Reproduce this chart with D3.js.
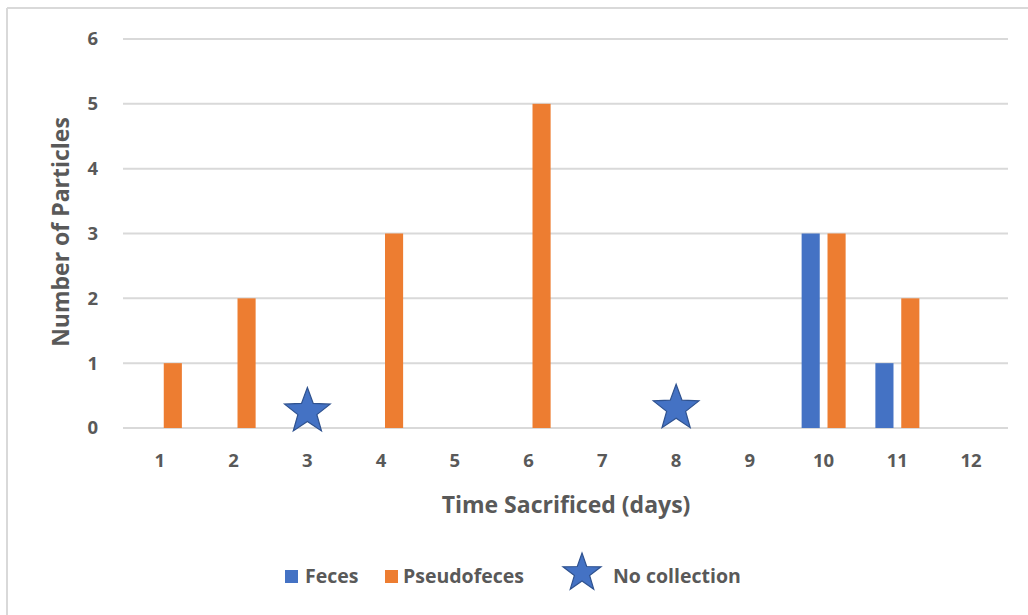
<!DOCTYPE html>
<html>
<head>
<meta charset="utf-8">
<script src="https://cdn.jsdelivr.net/npm/d3@7"></script>
<style>
  html, body { margin: 0; padding: 0; background: #fff; }
  svg { display: block; font-family: "Open Sans", sans-serif; }
</style>
</head>
<body>
<svg id="chart" width="1028" height="615"></svg>
<script>
// Particles found per sacrifice day
const days = ["1","2","3","4","5","6","7","8","9","10","11","12"];
const series = ["Feces", "Pseudofeces"];
const feces = [0, 0, 0, 0, 0, 0, 0, 0, 0, 3, 1, 0];
const pseudofeces = [1, 2, 0, 3, 0, 5, 0, 0, 0, 3, 2, 0];
const noCollectionDays = ["3", "8"];
const noCollectionLevel = [0.3, 0.35];
const yTicks = [0, 1, 2, 3, 4, 5, 6];
const colors = { Feces: "#4472C4", Pseudofeces: "#ED7D31" };

const svg = d3.select("#chart");
const W = 1028, H = 615;
const plot = { left: 123, right: 1008, top: 39, bottom: 428 };
const textColor = "#595959";
const gridColor = "#d9d9d9";
const font = "'Open Sans', sans-serif";

// Outer frame (top and left edges)
svg.append("line").attr("x1", 7).attr("x2", W).attr("y1", 8).attr("y2", 8)
  .attr("stroke", "#d9d9d9").attr("stroke-width", 2);
svg.append("line").attr("x1", 7).attr("x2", 7).attr("y1", 8).attr("y2", H)
  .attr("stroke", "#d9d9d9").attr("stroke-width", 2);

const x0 = d3.scaleBand().domain(days).range([plot.left, plot.right]).paddingInner(0).paddingOuter(0);
const x1 = d3.scaleBand().domain(series).range([x0.bandwidth() / 2 - 22, x0.bandwidth() / 2 + 22]).paddingInner(0.3).paddingOuter(0);
const y = d3.scaleLinear().domain([0, 6]).range([plot.bottom, plot.top]);

// Gridlines
svg.append("g").selectAll("line").data(yTicks).join("line")
  .attr("x1", plot.left).attr("x2", plot.right)
  .attr("y1", d => y(d)).attr("y2", d => y(d))
  .attr("stroke", gridColor).attr("stroke-width", 2);

// Y axis labels
const yAxis = d3.axisLeft(y).tickValues(yTicks).tickFormat(d3.format("d")).tickSize(0).tickPadding(0);
const gy = svg.append("g").attr("transform", `translate(${plot.left - 25},0)`).call(yAxis);
gy.select(".domain").remove();
gy.selectAll("text").attr("fill", textColor).attr("font-size", 18.5).attr("font-weight", 700)
  .attr("font-family", font);

// X axis labels
const xAxis = d3.axisBottom(x0).tickSize(0).tickPadding(0);
const gx = svg.append("g").attr("transform", `translate(0,${plot.bottom + 26})`).call(xAxis);
gx.select(".domain").remove();
gx.selectAll("text").attr("fill", textColor).attr("font-size", 18.5).attr("font-weight", 700)
  .attr("font-family", font);

// Bars
const rows = days.map((d, i) => ({ day: d, Feces: feces[i], Pseudofeces: pseudofeces[i] }));
svg.append("g").selectAll("g").data(rows).join("g")
  .attr("transform", d => `translate(${x0(d.day)},0)`)
  .selectAll("rect")
  .data(d => series.map(s => ({ key: s, value: d[s] })).filter(v => v.value > 0))
  .join("rect")
  .attr("x", d => x1(d.key))
  .attr("width", x1.bandwidth())
  .attr("y", d => y(d.value))
  .attr("height", d => y(0) - y(d.value))
  .attr("fill", d => colors[d.key]);

// Five-point star path centred at the origin
function starPath(R, r) {
  const pts = [];
  for (let i = 0; i < 10; i++) {
    const a = -Math.PI / 2 + i * Math.PI / 5;
    const rad = i % 2 === 0 ? R : r;
    pts.push([rad * Math.cos(a), rad * Math.sin(a)]);
  }
  return d3.line()(pts) + "Z";
}

// "No collection" markers
svg.append("g").selectAll("path").data(noCollectionDays).join("path")
  .attr("d", starPath(24, 10))
  .attr("transform", (d, i) => `translate(${x0(d) + x0.bandwidth() / 2},${y(noCollectionLevel[i]) + 3})`)
  .attr("fill", "#4472C4").attr("stroke", "#2F528F").attr("stroke-width", 1.2);

// Axis titles
svg.append("text").attr("x", 566).attr("y", 513)
  .attr("text-anchor", "middle").attr("fill", textColor).attr("font-family", font)
  .attr("font-size", 23).attr("font-weight", 700).text("Time Sacrificed (days)");
svg.append("text").attr("transform", "translate(69,232) rotate(-90)")
  .attr("text-anchor", "middle").attr("fill", textColor).attr("font-family", font)
  .attr("font-size", 23).attr("font-weight", 700).text("Number of Particles");

// Legend
const legend = svg.append("g").attr("font-size", 19.5).attr("font-weight", 700)
  .attr("fill", textColor).attr("font-family", font);
legend.append("rect").attr("x", 285).attr("y", 570).attr("width", 13).attr("height", 13).attr("fill", colors.Feces);
legend.append("text").attr("x", 305).attr("y", 583).text("Feces");
legend.append("rect").attr("x", 385).attr("y", 570).attr("width", 13).attr("height", 13).attr("fill", colors.Pseudofeces);
legend.append("text").attr("x", 403).attr("y", 583).text("Pseudofeces");
legend.append("path").attr("d", starPath(20, 8)).attr("transform", "translate(582,573)")
  .attr("fill", "#4472C4").attr("stroke", "#2F528F").attr("stroke-width", 1.2);
legend.append("text").attr("x", 613).attr("y", 583).text("No collection");
</script>
</body>
</html>
